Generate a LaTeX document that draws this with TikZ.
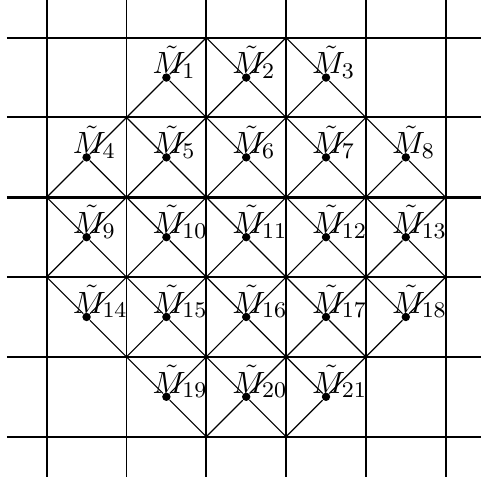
\documentclass[tikz,border=0pt]{standalone}
\usetikzlibrary{calc}
\tikzset{
  gridline/.style={line width=0.7pt},
  thickline/.style={line width=1.1pt},
  diag/.style={line width=0.4pt},
  mdot/.style={circle, fill, inner sep=0pt, minimum size=3pt},
  mlabel/.style={anchor=base west, inner sep=0pt, font=\fontsize{10.95pt}{13pt}\selectfont},
}
\begin{document}
\begin{tikzpicture}
  \useasboundingbox (-0.585,-5.593) rectangle (5.442,0.472);
  % mesh
  \foreach \i in {0,...,5}
    \draw[gridline] (\i,0.472) -- (\i,-5.5);
  \foreach \j in {0,1,3,4,5}
    \draw[gridline] (-0.5,-\j) -- (5.442,-\j);
  \draw[thickline] (-0.5,-2) -- (5.442,-2);
  % mesh vertices
  \foreach \i in {0,...,5}
    \foreach \j in {0,...,5}
      \coordinate (g-\i-\j) at (\i,-\j);
  % points: number/column/row/corners joined (dx/dy)
  \foreach \n/\c/\r/\crn in {
      1/2/1/{1/0,0/1,1/1}, 2/3/1/{0/0,1/0,0/1,1/1}, 3/4/1/{0/0,0/1,1/1},
      4/1/2/{1/0,0/1,1/1}, 5/2/2/{0/0,1/0,0/1,1/1}, 6/3/2/{0/0,1/0,0/1,1/1},
      7/4/2/{0/0,1/0,0/1,1/1}, 8/5/2/{0/0,0/1,1/1},
      9/1/3/{0/0,1/0,0/1,1/1}, 10/2/3/{0/0,1/0,0/1,1/1}, 11/3/3/{0/0,1/0,0/1,1/1},
      12/4/3/{0/0,1/0,0/1,1/1}, 13/5/3/{0/0,1/0,0/1,1/1},
      14/1/4/{0/0,1/0,1/1}, 15/2/4/{0/0,1/0,0/1,1/1}, 16/3/4/{0/0,1/0,0/1,1/1},
      17/4/4/{0/0,1/0,0/1,1/1}, 18/5/4/{0/0,1/0,0/1},
      19/2/5/{0/0,1/0,1/1}, 20/3/5/{0/0,1/0,0/1,1/1}, 21/4/5/{0/0,1/0,0/1}} {
    \node[mdot] (m\n) at (\c-0.5,0.5-\r) {};
    \node[mlabel] (l\n) at ([xshift=-0.18cm,yshift=0.045cm]m\n.center) {$\tilde M_{\n}$};
    \foreach \dx/\dy in \crn {
      \pgfmathtruncatemacro\gi{\c-1+\dx}
      \pgfmathtruncatemacro\gj{\r-1+\dy}
      \draw[diag] (m\n) -- (g-\gi-\gj);
    }
  }
\end{tikzpicture}
\end{document}
